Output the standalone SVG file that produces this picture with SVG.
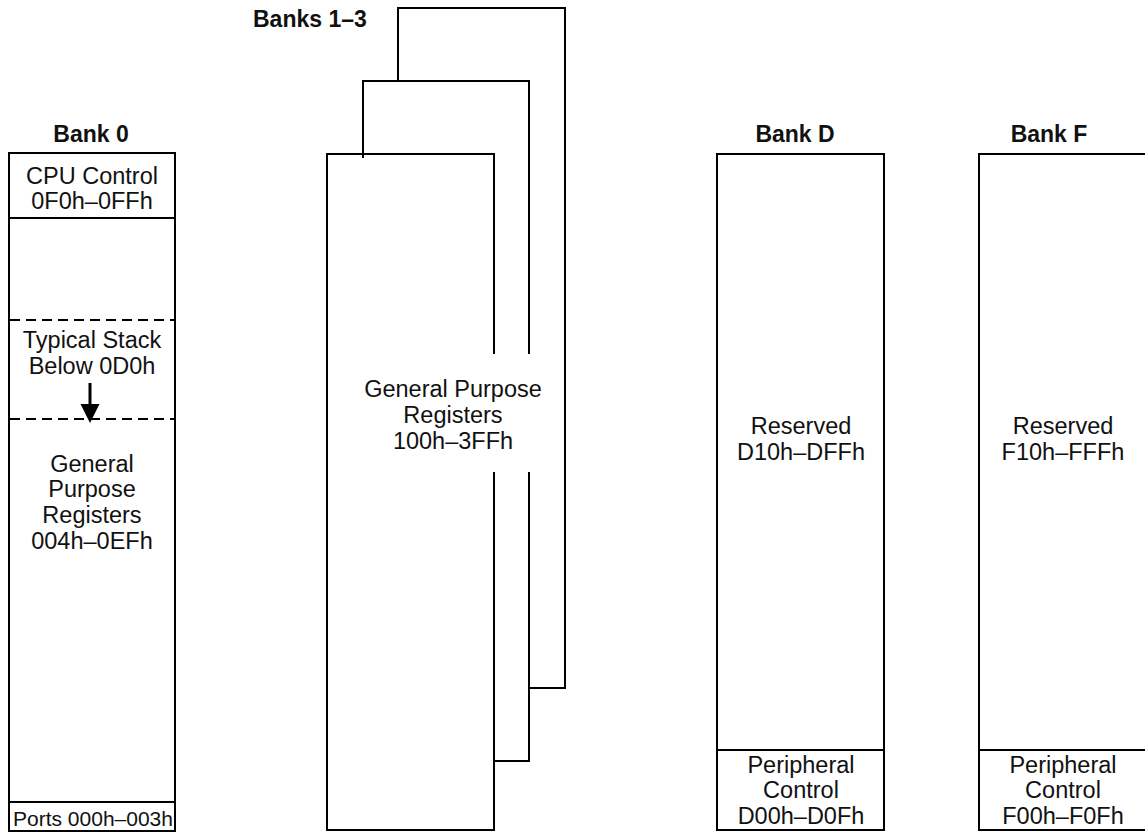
<svg xmlns="http://www.w3.org/2000/svg" width="1145" height="836" viewBox="0 0 1145 836">
<style>
.box{fill:none;stroke:#000;stroke-width:2}
.ln{fill:none;stroke:#000;stroke-width:2}
.dash{fill:none;stroke:#000;stroke-width:2;stroke-dasharray:10 6}
text{font-family:"Liberation Sans",Arial,sans-serif;font-size:23.5px;fill:#111;text-anchor:middle}
.t{font-weight:bold;font-size:23px}
</style>
<rect width="1145" height="836" fill="#fff"/>
<g id="bank0">
<text class="t" x="91" y="142">Bank 0</text>
<rect class="box" x="9" y="153" width="166" height="678"/>
<line class="ln" x1="9" y1="218" x2="175" y2="218"/>
<text x="92" y="184">CPU Control</text>
<text x="92" y="209">0F0h–0FFh</text>
<line class="dash" x1="10" y1="320" x2="175" y2="320"/>
<text x="92" y="348">Typical Stack</text>
<text x="92" y="374">Below 0D0h</text>
<line class="dash" x1="10" y1="419" x2="175" y2="419"/>
<line x1="90" y1="383" x2="90" y2="406" stroke="#000" stroke-width="3"/>
<polygon points="80.5,404 99.5,404 90,423" fill="#000"/>
<text x="92" y="472">General</text>
<text x="92" y="497">Purpose</text>
<text x="92" y="523">Registers</text>
<text x="92" y="549">004h–0EFh</text>
<line class="ln" x1="9" y1="802" x2="175" y2="802"/>
<text x="93" y="826" style="font-size:21px">Ports 000h–003h</text>
</g>
<g id="banks1-3">
<text class="t" x="253" y="27" style="text-anchor:start">Banks 1–3</text>
<polyline class="ln" points="398,81 398,8 565,8 565,688 529,688"/>
<polyline class="ln" points="363,158 363,81 529,81 529,354"/>
<polyline class="ln" points="529,472 529,761 494,761"/>
<polyline class="ln" points="494,354 494,154 327,154 327,830 494,830 494,472"/>
<text x="453" y="397">General Purpose</text>
<text x="453" y="423">Registers</text>
<text x="453" y="449">100h–3FFh</text>
</g>
<g id="bankD">
<text class="t" x="795" y="142">Bank D</text>
<rect class="box" x="717" y="154" width="167" height="676"/>
<text x="801" y="434">Reserved</text>
<text x="801" y="460">D10h–DFFh</text>
<line class="ln" x1="717" y1="750" x2="884" y2="750"/>
<text x="801" y="773">Peripheral</text>
<text x="801" y="798">Control</text>
<text x="801" y="824">D00h–D0Fh</text>
</g>
<g id="bankF">
<text class="t" x="1049" y="142">Bank F</text>
<rect class="box" x="979" y="154" width="167" height="676"/>
<text x="1063" y="434">Reserved</text>
<text x="1063" y="460">F10h–FFFh</text>
<line class="ln" x1="979" y1="750" x2="1146" y2="750"/>
<text x="1063" y="773">Peripheral</text>
<text x="1063" y="798">Control</text>
<text x="1063" y="824">F00h–F0Fh</text>
</g>
<g id="connectors"></g>
</svg>
